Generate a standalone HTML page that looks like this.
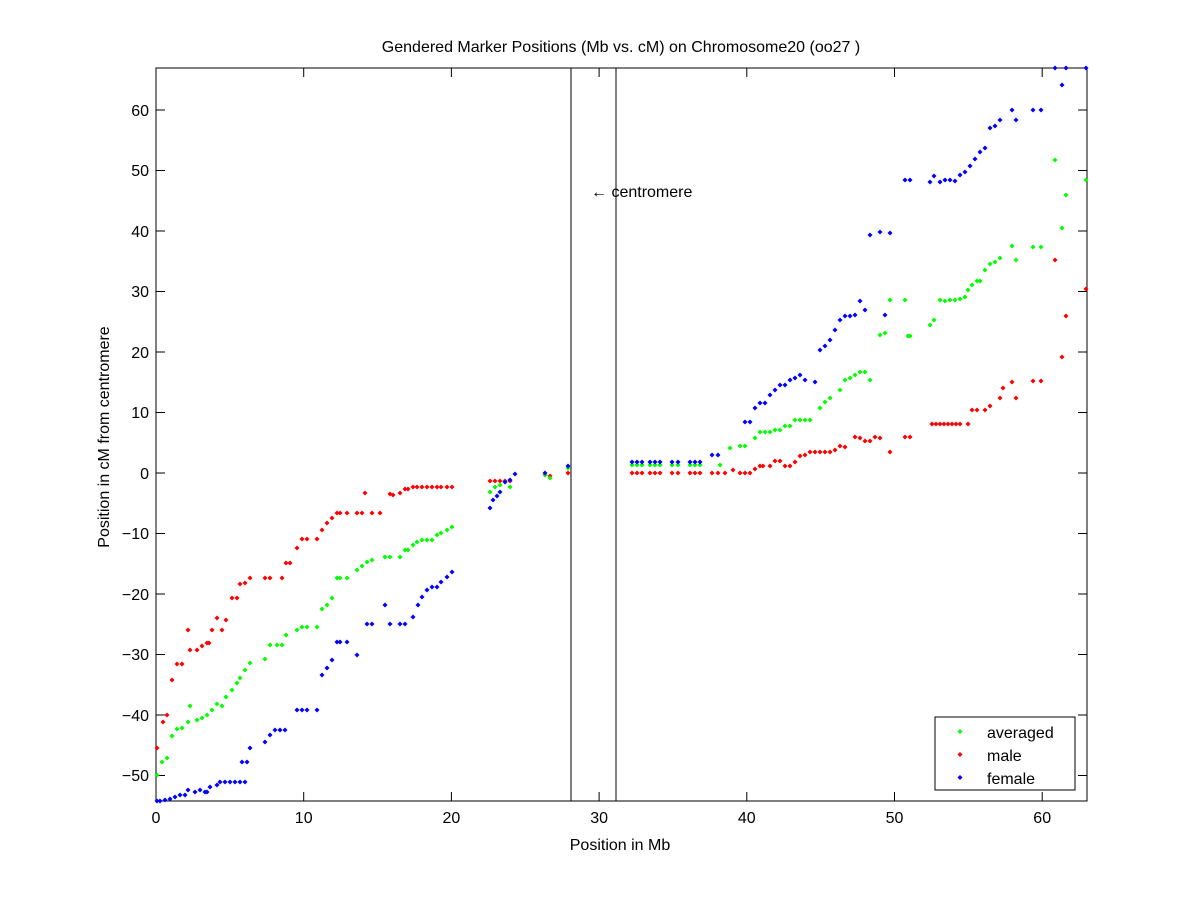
<!DOCTYPE html>
<html><head><meta charset="utf-8"><style>
html,body{margin:0;padding:0;background:#fff}
svg text{font-family:"Liberation Sans",sans-serif;font-size:16px;fill:#000}
</style></head><body>
<svg width="1200" height="901" viewBox="0 0 1200 901" xmlns="http://www.w3.org/2000/svg">
<defs>
<marker id="g" markerUnits="userSpaceOnUse" markerWidth="8" markerHeight="8" refX="4" refY="4" overflow="visible"><path d="M4 1.5L6.5 4L4 6.5L1.5 4Z" fill="#00ff00"/></marker>
<marker id="r" markerUnits="userSpaceOnUse" markerWidth="8" markerHeight="8" refX="4" refY="4" overflow="visible"><path d="M4 1.5L6.5 4L4 6.5L1.5 4Z" fill="#ff0000"/></marker>
<marker id="b" markerUnits="userSpaceOnUse" markerWidth="8" markerHeight="8" refX="4" refY="4" overflow="visible"><path d="M4 1.5L6.5 4L4 6.5L1.5 4Z" fill="#0000ff"/></marker>
</defs>
<rect x="156" y="68" width="931" height="733" fill="#fff" stroke="#000" stroke-width="1"/>
<g stroke="#000" stroke-width="1">
<path d="M156 801v-9M303.7 801v-9M451.4 801v-9M599.1 801v-9M746.8 801v-9M894.5 801v-9M1042.2 801v-9
M156 68v9M303.7 68v9M451.4 68v9M599.1 68v9M746.8 68v9M894.5 68v9M1042.2 68v9
M156 775.5h9M156 715h9M156 654.5h9M156 594h9M156 533.5h9M156 473h9M156 412.5h9M156 352h9M156 291.5h9M156 231h9M156 170.5h9M156 110h9
M1087 775.5h-9M1087 715h-9M1087 654.5h-9M1087 594h-9M1087 533.5h-9M1087 473h-9M1087 412.5h-9M1087 352h-9M1087 291.5h-9M1087 231h-9M1087 170.5h-9M1087 110h-9"/>
<line x1="571" y1="68" x2="571" y2="801"/>
<line x1="616" y1="68" x2="616" y2="801"/>
</g>
<g text-anchor="middle">
<text x="156" y="823">0</text><text x="303.7" y="823">10</text><text x="451.4" y="823">20</text><text x="599.1" y="823">30</text><text x="746.8" y="823">40</text><text x="894.5" y="823">50</text><text x="1042.2" y="823">60</text>
<text x="620" y="850">Position in Mb</text>
<text x="621" y="52">Gendered Marker Positions (Mb vs. cM) on Chromosome20 (oo27 )</text>
</g>
<g text-anchor="end">
<text x="149" y="781">−50</text><text x="149" y="721">−40</text><text x="149" y="660">−30</text><text x="149" y="600">−20</text><text x="149" y="539">−10</text><text x="149" y="479">0</text><text x="149" y="418">10</text><text x="149" y="358">20</text><text x="149" y="297">30</text><text x="149" y="237">40</text><text x="149" y="176">50</text><text x="149" y="116">60</text>
</g>
<text x="0" y="0" text-anchor="middle" transform="translate(109,437) rotate(-90)">Position in cM from centromere</text>
<text x="591" y="197">← centromere</text>
<g fill="none" stroke="none">
<polyline marker-start="url(#r)" marker-mid="url(#r)" marker-end="url(#r)" points="157,748 163,722 167,715 172,680 177,664 182,664 188,630 190,650 197,650 202,646 207,643 209,643 212,630 217,618 222,630 226,620 232,598 237,598 240,584 245,583 250,578 265,578 270,578 282,578 286,563 290,563 297,548 302,539 307,539 317,539 322,530 327,523 332,518 337,513 340,513 347,513 357,513 362,513 372,513 365,493 380,513 390,494 393,495 400,493 405,489 408,489 413,487 417,487 422,487 427,487 432,487 437,487 441,487 447,487 452,487 490,481 495,481 500,481 505,481 510,481 545,475 550,476 568,473 632,473 637,473 642,473 650,473 655,473 660,473 672,473 678,473 690,473 695,473 700,473 712,473 718,473 725,473 733,470 740,473 745,473 750,473 755,469 760,466 763,466 770,466 775,461 780,461 785,466 790,466 795,462 800,456 805,455 810,452 815,452 820,452 825,452 830,452 835,450 840,446 845,447 855,437 860,438 865,441 870,441 875,437 880,438 890,452 905,437 910,437 932,424 936,424 940,424 944,424 948,424 952,424 956,424 960,424 968,424 972,410 977,410 985,410 990,406 1000,398 1003,388 1012,382 1016,398 1033,381 1041,381 1055,260 1062,357 1066,316 1086,289"/>
<polyline marker-start="url(#g)" marker-mid="url(#g)" marker-end="url(#g)" points="157,775 162,762 167,758 172,736 177,729 182,728 188,722 190,706 197,720 202,718 207,715 212,710 217,704 222,706 226,697 232,690 237,683 240,678 245,670 250,663 265,659 270,645 277,645 282,645 286,635 297,630 302,627 307,627 317,627 322,609 327,605 332,598 337,578 340,578 347,578 357,570 362,566 367,562 372,560 385,557 390,557 400,557 405,550 408,550 413,545 417,542 422,540 427,540 432,540 437,535 441,533 447,530 452,527 490,492 495,487 500,485 505,482 510,487 545,475 550,478 568,468 632,465 637,465 642,465 650,465 655,465 660,465 672,465 678,465 690,465 695,465 700,465 720,465 730,448 740,446 745,446 755,438 760,432 765,432 770,432 775,430 780,430 785,426 790,426 795,420 800,420 805,420 810,420 820,408 825,402 830,398 840,390 845,380 850,378 855,375 860,372 865,372 870,380 880,335 885,333 890,300 905,300 908,336 910,336 930,325 934,320 940,300 945,301 950,300 955,300 960,299 965,297 968,290 972,285 977,281 980,281 985,270 990,264 995,262 1000,258 1012,246 1016,260 1033,247 1041,247 1055,160 1062,228 1066,195 1086,180"/>
<polyline marker-start="url(#b)" marker-mid="url(#b)" marker-end="url(#b)" points="157,801 160,801 165,800 170,799 175,797 180,795 185,795 188,790 195,792 200,790 205,792 207,792 210,787 217,785 220,782 225,782 230,782 235,782 240,782 245,782 242,762 247,762 250,748 265,742 270,735 275,730 280,730 285,730 297,710 302,710 307,710 317,710 322,675 327,668 332,660 337,642 340,642 347,642 357,655 367,624 372,624 385,605 390,624 400,624 405,624 413,617 418,605 422,597 427,590 432,587 437,587 441,582 447,577 452,572 490,508 493,500 497,496 500,492 505,482 510,480 515,474 545,473 568,466 632,462 637,462 642,462 650,462 655,462 660,462 672,462 678,462 690,462 695,462 700,462 712,455 718,455 745,422 750,422 755,408 760,403 765,403 770,395 775,390 780,385 785,385 790,380 795,378 800,375 805,380 815,382 820,350 825,346 830,340 835,330 840,320 845,316 850,316 855,315 860,301 865,310 870,235 880,232 885,315 890,233 905,180 910,180 930,182 934,176 940,182 945,180 950,180 955,181 960,175 965,172 970,166 975,159 980,152 985,148 990,128 995,126 1000,120 1012,110 1016,120 1033,110 1041,110 1055,68 1062,85 1066,68 1086,68"/>
</g>
<rect x="935" y="717" width="140" height="73" fill="#fff" stroke="#000" stroke-width="1"/>
<path d="M960 729l2.5 2.5l-2.5 2.5l-2.5-2.5Z" fill="#00ff00"/>
<path d="M960 752l2.5 2.5l-2.5 2.5l-2.5-2.5Z" fill="#ff0000"/>
<path d="M960 775l2.5 2.5l-2.5 2.5l-2.5-2.5Z" fill="#0000ff"/>
<text x="987" y="738">averaged</text>
<text x="987" y="761">male</text>
<text x="987" y="784">female</text>
</svg>
</body></html>
